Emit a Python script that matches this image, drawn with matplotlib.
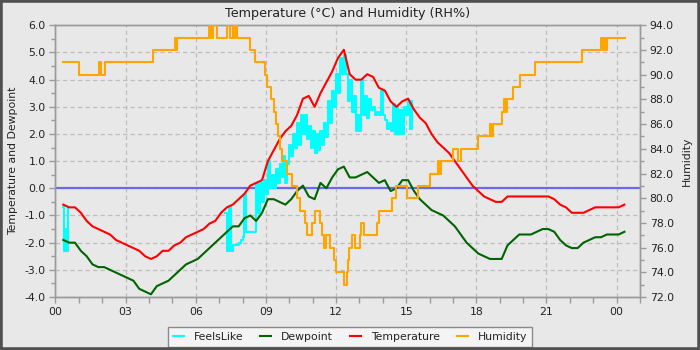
import numpy as np
import matplotlib
matplotlib.use("Agg")
import matplotlib.pyplot as plt
from matplotlib.ticker import MultipleLocator, FixedLocator, FixedFormatter
from matplotlib.patches import Rectangle

# ---- data -------------------------------------------------------------
# 15-minute readings starting 00:20 (hours since midnight)
times_h = np.arange(20, 1461, 15) / 60.0

temperature = [
    -0.6, -0.7, -0.7, -0.9, -1.2, -1.4, -1.5, -1.6, -1.7, -1.9, -2.0, -2.1,
    -2.2, -2.3, -2.5, -2.6, -2.5, -2.3, -2.3, -2.1, -2.0, -1.8, -1.7, -1.6,
    -1.5, -1.3, -1.2, -0.9, -0.7, -0.6, -0.4, -0.2, 0.1, 0.2, 0.3, 1.0,
    1.4, 1.8, 2.1, 2.3, 2.7, 3.3, 3.4, 3.0, 3.5, 3.9, 4.3, 4.8,
    5.1, 4.2, 4.0, 4.0, 4.2, 4.1, 3.7, 3.6, 3.2, 3.0, 3.2, 3.3,
    2.9, 2.6, 2.4, 2.0, 1.7, 1.5, 1.3, 1.0, 0.7, 0.4, 0.1, -0.1,
    -0.3, -0.4, -0.5, -0.5, -0.3, -0.3, -0.3, -0.3, -0.3, -0.3, -0.3, -0.3,
    -0.4, -0.6, -0.7, -0.9, -0.9, -0.9, -0.8, -0.7, -0.7, -0.7, -0.7, -0.7,
    -0.6,
]

dewpoint = [
    -1.9, -2.0, -2.0, -2.3, -2.5, -2.8, -2.9, -2.9, -3.0, -3.1, -3.2, -3.3,
    -3.4, -3.7, -3.8, -3.9, -3.6, -3.5, -3.4, -3.2, -3.0, -2.8, -2.7, -2.6,
    -2.4, -2.2, -2.0, -1.8, -1.6, -1.4, -1.4, -1.1, -1.0, -1.2, -0.9, -0.4,
    -0.4, -0.5, -0.6, -0.4, -0.1, 0.1, -0.3, -0.4, 0.2, 0.0, 0.4, 0.7,
    0.8, 0.4, 0.4, 0.5, 0.6, 0.4, 0.2, 0.3, -0.1, 0.0, 0.3, 0.3,
    -0.1, -0.4, -0.6, -0.8, -0.9, -1.0, -1.2, -1.4, -1.7, -2.0, -2.2, -2.4,
    -2.5, -2.6, -2.6, -2.6, -2.1, -1.9, -1.7, -1.7, -1.7, -1.6, -1.5, -1.5,
    -1.6, -1.9, -2.1, -2.2, -2.2, -2.0, -1.9, -1.8, -1.8, -1.7, -1.7, -1.7,
    -1.6,
]

# Feels-like: short windy spell after midnight, then 5-minute readings 07:15-15:15
feels_early_h = [0.333, 0.35, 0.40, 0.45, 0.52, 0.55]
feels_early = [-0.7, -2.3, -1.5, -2.3, -0.7, -0.7]

feels_day_h = np.arange(435, 916, 5) / 60.0
feels_day = [
    -0.9, -2.3, -0.7, -2.3, -2.1, -2.1, -2.1, -2.0, -1.9, -1.8, -0.2, -1.6,
    -1.6, -1.6, -1.6, -1.6, 0.2, -0.9, 0.2, -0.5, 0.3, -0.2, 1.0, 0.0,
    0.5, 0.0, 0.7, 0.2, 0.9, 0.4, 1.2, 0.2, 0.9, 1.6, 1.2, 2.0,
    1.5, 2.4, 1.6, 2.7, 2.0, 2.7, 1.8, 2.3, 1.5, 2.1, 1.3, 2.0,
    1.4, 2.1, 1.6, 2.4, 1.9, 3.2, 2.4, 3.6, 3.0, 4.2, 3.5, 4.8,
    4.2, 4.9, 4.2, 3.2, 4.0, 2.8, 3.4, 2.1, 2.7, 2.1, 4.0, 2.7,
    3.4, 2.6, 3.3, 2.9, 3.0, 2.7, 2.8, 2.7, 3.6, 2.7, 2.5, 2.2,
    2.4, 2.1, 3.1, 2.0, 3.0, 2.0, 2.9, 2.0, 3.0, 2.7, 3.2, 2.2,
    3.2,
]

# Relative humidity: change points (hour, %RH)
hum_h = [
    0.33, 1.00, 1.88, 1.93, 2.12, 4.18, 5.11, 5.14, 5.18, 6.57, 6.61, 6.64,
    6.70, 6.74, 6.90, 7.32, 7.46, 7.60, 7.64, 7.68, 7.77, 8.32, 8.53, 8.96,
    9.05, 9.20, 9.35, 9.45, 9.52, 9.60, 9.68, 9.90, 10.12, 10.33, 10.45, 10.67,
    10.74, 10.96, 11.10, 11.31, 11.38, 11.50, 11.58, 11.74, 11.90, 12.00, 12.35, 12.48,
    12.53, 12.57, 12.70, 12.80, 13.02, 13.05, 13.19, 13.74, 13.85, 14.38, 14.55, 15.03,
    15.52, 16.02, 16.37, 16.42, 16.50, 17.00, 17.23, 17.35, 18.08, 18.58, 18.62, 18.73,
    19.08, 19.20, 19.25, 19.30, 19.58, 19.87, 20.51, 22.53, 23.32, 23.40, 23.45, 23.50,
    23.60, 24.35,
]
hum_v = [
    91, 90, 91, 90, 91, 92, 93, 92, 93, 94, 93, 94,
    93, 94, 93, 94, 93, 94, 93, 94, 93, 92, 91, 90,
    89, 88, 87, 86, 85, 84, 83, 82, 81, 80, 79, 78,
    77, 78, 79, 78, 77, 76, 77, 76, 75, 74, 73, 74,
    75, 76, 77, 76, 77, 78, 77, 78, 79, 80, 81, 80,
    81, 82, 83, 82, 83, 84, 83, 84, 85, 86, 85, 86,
    87, 88, 87, 88, 89, 90, 91, 92, 93, 92, 93, 92,
    93, 93,
]

hour_ticks = [0, 3, 6, 9, 12, 15, 18, 21, 24]
hour_labels = ["00", "03", "06", "09", "12", "15", "18", "21", "00"]

# ---- figure -----------------------------------------------------------
BG = "#e8e8e8"
SPINE = "#9a9a9a"
GRID = "#bdbdbd"
TEXT = "#222222"

fig = plt.figure(figsize=(7, 3.5), dpi=100, facecolor=BG)
ax = fig.add_axes([55.5 / 700, 1 - 297 / 350, (640 - 55.5) / 700, (297 - 25.3) / 350])
ax.set_facecolor(BG)
ax2 = ax.twinx()

lw = 1.5
feels_h = list(feels_early_h) + [np.nan] + list(feels_day_h)
feels_v = list(feels_early) + [np.nan] + list(feels_day)
l_feels, = ax.plot(feels_h, feels_v, color="#00ffff", lw=lw, drawstyle="steps-post",
                   label="FeelsLike", zorder=3)
l_dew, = ax.plot(times_h, dewpoint, color="#006400", lw=lw, label="Dewpoint", zorder=4)
l_temp, = ax.plot(times_h, temperature, color="#ff0000", lw=lw, label="Temperature", zorder=5)
ax.axhline(0.0, color="#6a6af0", lw=1.6, zorder=2)

l_hum, = ax2.plot(hum_h, hum_v, color="#ffa500", lw=lw, drawstyle="steps-post",
                  label="Humidity", zorder=6)

# axes limits and ticks
ax.set_xlim(0, 25)
ax.set_ylim(-4.0, 6.0)
ax2.set_ylim(72.0, 94.0)

ax.xaxis.set_major_locator(FixedLocator(hour_ticks))
ax.xaxis.set_major_formatter(FixedFormatter(hour_labels))
ax.xaxis.set_minor_locator(MultipleLocator(1))
ax.yaxis.set_major_locator(MultipleLocator(1.0))
ax.yaxis.set_minor_locator(MultipleLocator(0.5))
ax.yaxis.set_major_formatter(matplotlib.ticker.FormatStrFormatter("%.1f"))
ax2.yaxis.set_major_locator(MultipleLocator(2.0))
ax2.yaxis.set_minor_locator(MultipleLocator(1.0))
ax2.yaxis.set_major_formatter(matplotlib.ticker.FormatStrFormatter("%.1f"))

for a in (ax, ax2):
    for s in a.spines.values():
        s.set_color(SPINE)
        s.set_linewidth(1.0)
    a.tick_params(which="major", length=4, width=1, color=SPINE, labelsize=7.8,
                  labelcolor=TEXT, pad=3)
    a.tick_params(which="minor", length=3, width=1, color=SPINE)
ax.tick_params(axis="x", which="minor", length=4)

ax.grid(True, which="major", axis="both", color=GRID, linestyle=(0, (3.5, 2.5)), lw=0.9)
ax.set_axisbelow(True)

ax.set_ylabel("Temperature and Dewpoint", fontsize=7.8, color=TEXT, labelpad=5)
ax2.set_ylabel("Humidity", fontsize=7.8, color=TEXT, labelpad=6)
ax.set_title("Temperature (\u00b0C) and Humidity (RH%)", fontsize=9.2, color=TEXT, pad=6)

leg = fig.legend(handles=[l_feels, l_dew, l_temp, l_hum], loc="lower center",
                 bbox_to_anchor=(0.5, -0.006), ncol=4, fontsize=7.8, frameon=True,
                 fancybox=False, edgecolor="#8a8a8a", facecolor="#f4f4f4",
                 framealpha=1.0, handlelength=1.0, handletextpad=0.9,
                 columnspacing=1.6, borderpad=0.45)
leg.get_frame().set_linewidth(1.0)
for t in leg.get_texts():
    t.set_color(TEXT)

# dark frame round the image
fig.patches.append(Rectangle((0, 0), 1, 1, transform=fig.transFigure, fill=False,
                             edgecolor="#505050", linewidth=4, zorder=10))

fig.savefig("out.png", dpi=100, facecolor=BG)
